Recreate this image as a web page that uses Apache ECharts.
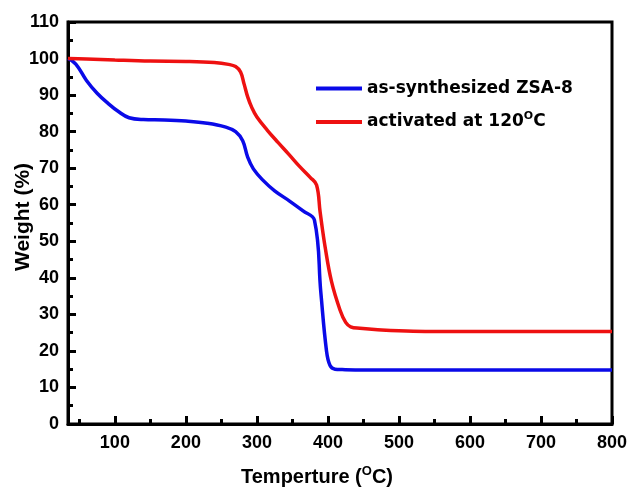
<!DOCTYPE html>
<html><head><meta charset="utf-8">
<script src="https://cdn.jsdelivr.net/npm/echarts@6/dist/echarts.min.js"></script>
<style>html,body{margin:0;padding:0;background:#fff}#c{width:628px;height:491px}</style>
</head><body><div id="c"></div>
<script>
const seriesNames = ['as-synthesized ZSA-8', 'activated at 120{sup|O}C'];
const blueTemps   = [34, 45, 60, 75, 90, 105, 120, 140, 170, 200, 230, 255, 270, 280, 287, 295, 308, 325, 346, 365, 381, 390, 398, 403, 410, 420, 450, 500, 600, 700, 800];
const blueWeights = [100, 98.5, 94, 90.5, 87.8, 85.5, 83.8, 83.3, 83.2, 82.9, 82.3, 81.3, 80.0, 77.5, 73, 69.8, 66.8, 63.8, 61.0, 58.3, 55.8, 36, 20, 16, 15.0, 14.9, 14.8, 14.8, 14.8, 14.8, 14.8];
const redTemps    = [34, 60, 100, 150, 200, 240, 260, 270, 277, 282, 287, 293, 300, 315, 330, 345, 360, 375, 384, 389, 396, 405, 417, 425, 432, 445, 470, 520, 600, 700, 800];
const redWeights  = [100, 99.9, 99.6, 99.3, 99.2, 98.9, 98.4, 97.8, 96.3, 93, 89.5, 86.5, 84, 80.3, 77, 73.8, 70.5, 67.5, 65.4, 58, 48.5, 39, 31.2, 27.8, 26.6, 26.2, 25.8, 25.4, 25.3, 25.3, 25.3];
const xMajorTicks = [100, 200, 300, 400, 500, 600, 700, 800];
const xMinorTicks = [50, 150, 250, 350, 450, 550, 650, 750];

const zip = (a, b) => a.map((v, i) => [v, b[i]]);
const font = 'Liberation Sans, Arial, sans-serif';
const wide = 'DejaVu Sans, sans-serif';
const chart = echarts.init(document.getElementById('c'));
chart.setOption({
  animation: false,
  grid: { left: 68, right: 16, top: 22, bottom: 67, outerBoundsMode: 'none', containLabel: false,
    show: true, borderColor: '#000', borderWidth: 3, backgroundColor: 'transparent' },
  legend: {
    orient: 'vertical', left: 311, top: 75, itemWidth: 46, itemHeight: 4, itemGap: 14,
    icon: 'rect',
    data: seriesNames,
    textStyle: { fontSize: 17, fontWeight: 'bold', fontFamily: wide, color: '#000',
      rich: { sup: { fontSize: 11, fontWeight: 'bold', fontFamily: wide, color: '#000', padding: [0, 0, 11, 0] } } }
  },
  xAxis: [{
    type: 'value', min: 34, max: 800,
    name: 'Temperture ({sup|O}C)', nameLocation: 'middle', nameGap: 41, nameMoveOverlap: false,
    nameTextStyle: { fontSize: 20, fontWeight: 'bold', fontFamily: font, color: '#000', padding: [0, 46, 0, 0],
      rich: { sup: { fontSize: 13, fontWeight: 'bold', fontFamily: font, color: '#000', padding: [0, 0, 12, 0] } } },
    axisLine: { lineStyle: { color: '#000', width: 3 } },
    axisTick: { inside: true, length: 8, lineStyle: { color: '#000', width: 3 }, customValues: xMajorTicks },
    axisLabel: { fontSize: 18, fontWeight: 'bold', fontFamily: font, color: '#000', margin: 10, customValues: xMajorTicks },
    splitLine: { show: false }
  }, {
    type: 'value', min: 34, max: 800, position: 'bottom',
    axisLine: { show: false },
    axisTick: { inside: true, length: 5, lineStyle: { color: '#000', width: 3 }, customValues: xMinorTicks },
    axisLabel: { show: false, customValues: xMinorTicks },
    splitLine: { show: false }
  }],
  yAxis: {
    type: 'value', min: 0, max: 110, interval: 10,
    name: 'Weight (%)', nameLocation: 'middle', nameGap: 34, nameMoveOverlap: false,
    nameTextStyle: { fontSize: 21, fontWeight: 'bold', fontFamily: font, color: '#000', padding: [0, 0, 0, 12] },
    axisLine: { lineStyle: { color: '#000', width: 3 } },
    axisTick: { inside: true, length: 8, lineStyle: { color: '#000', width: 3 } },
    minorTick: { show: true, splitNumber: 2, length: 5, lineStyle: { color: '#000', width: 3 } },
    axisLabel: { fontSize: 18, fontWeight: 'bold', fontFamily: font, color: '#000', margin: 9 },
    splitLine: { show: false }
  },
  series: [{
    name: seriesNames[0], type: 'line', data: zip(blueTemps, blueWeights),
    showSymbol: false, smooth: 0.4,
    lineStyle: { color: '#0a0ae8', width: 3.5 }, itemStyle: { color: '#0a0ae8' }
  }, {
    name: seriesNames[1], type: 'line', data: zip(redTemps, redWeights),
    showSymbol: false, smooth: 0.4,
    lineStyle: { color: '#ee1111', width: 3.5 }, itemStyle: { color: '#ee1111' }
  }]
});
</script></body></html>
